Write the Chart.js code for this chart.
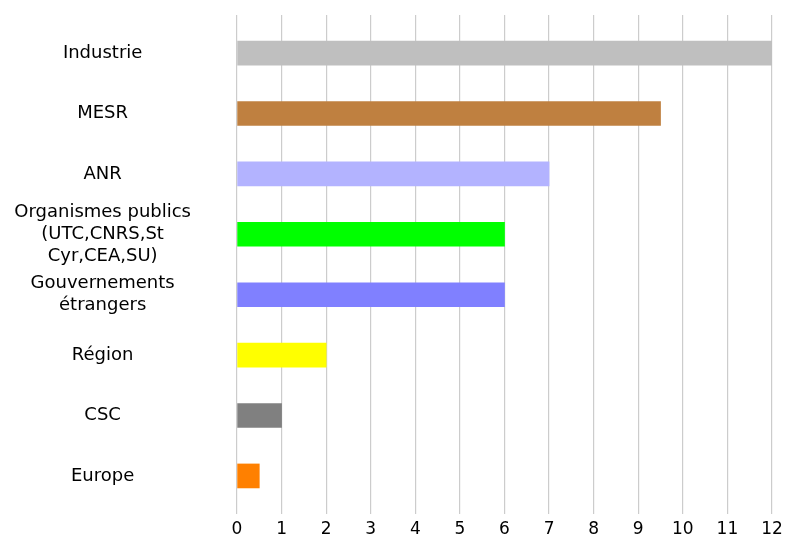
<!DOCTYPE html>
<html>
<head>
<meta charset="utf-8">
<script src="https://cdn.jsdelivr.net/npm/chart.js@4/dist/chart.umd.min.js"></script>
<style>
    html, body { margin: 0; padding: 0; background: #fff; }
    #wrap { width: 786px; height: 543px; }
</style>
</head>
<body>
<div id="wrap"><canvas id="fundingChart"></canvas></div>
<script>
(function () {
    'use strict';

    // funding sources, top to bottom
    var categories = [
        ['Industrie'],
        ['MESR'],
        ['ANR'],
        ['Organismes publics', '(UTC,CNRS,St', 'Cyr,CEA,SU)'],
        ['Gouvernements', 'étrangers'],
        ['Région'],
        ['CSC'],
        ['Europe']
    ];
    var values = [12, 9.5, 7, 6, 6, 2, 1, 0.5];
    var xTicks = [0, 1, 2, 3, 4, 5, 6, 7, 8, 9, 10, 11, 12];

    var barColors = [
        '#bfbfbf', '#bf8040', '#b3b3ff', '#00ff00',
        '#8080ff', '#ffff00', '#808080', '#ff8000'
    ];

    var FONT = 'DejaVu Sans';

    var points = values.map(function (v, i) { return { x: v, y: i }; });

    new Chart(document.getElementById('fundingChart'), {
        type: 'bar',
        data: {
            datasets: [{
                data: points,
                backgroundColor: barColors,
                borderWidth: 0,
                barThickness: 24
            }]
        },
        options: {
            indexAxis: 'y',
            responsive: true,
            maintainAspectRatio: false,
            animation: false,
            layout: { padding: { top: 15, right: 14, left: 0, bottom: 0 } },
            plugins: {
                legend: { display: false },
                tooltip: { enabled: false }
            },
            scales: {
                x: {
                    type: 'linear',
                    position: 'bottom',
                    min: xTicks[0],
                    max: xTicks[xTicks.length - 1],
                    border: { display: false },
                    grid: { color: '#cccccc', lineWidth: 1.2, drawTicks: false },
                    ticks: {
                        stepSize: 1,
                        padding: 5,
                        color: '#000',
                        font: { family: FONT, size: 17 }
                    },
                    afterFit: function (scale) {
                        scale.height = 29;
                        scale.paddingLeft = 0;
                        scale.paddingRight = 0;
                    }
                },
                y: {
                    type: 'linear',
                    reverse: true,
                    offset: false,
                    min: -0.63,
                    max: categories.length - 1 + 0.63,
                    border: { display: false },
                    grid: { display: false, drawTicks: false, offset: false },
                    ticks: {
                        stepSize: 1,
                        includeBounds: false,
                        autoSkip: false,
                        crossAlign: 'center',
                        padding: 46,
                        color: '#000',
                        font: { family: FONT, size: 18, lineHeight: 1.22 },
                        callback: function (value) {
                            if (Number.isInteger(value) && categories[value]) return categories[value];
                            return '';
                        }
                    },
                    afterFit: function (scale) {
                        scale.width = 237;
                        scale.paddingTop = 0;
                        scale.paddingBottom = 0;
                    }
                }
            }
        }
    });
})();
</script>
</body>
</html>
